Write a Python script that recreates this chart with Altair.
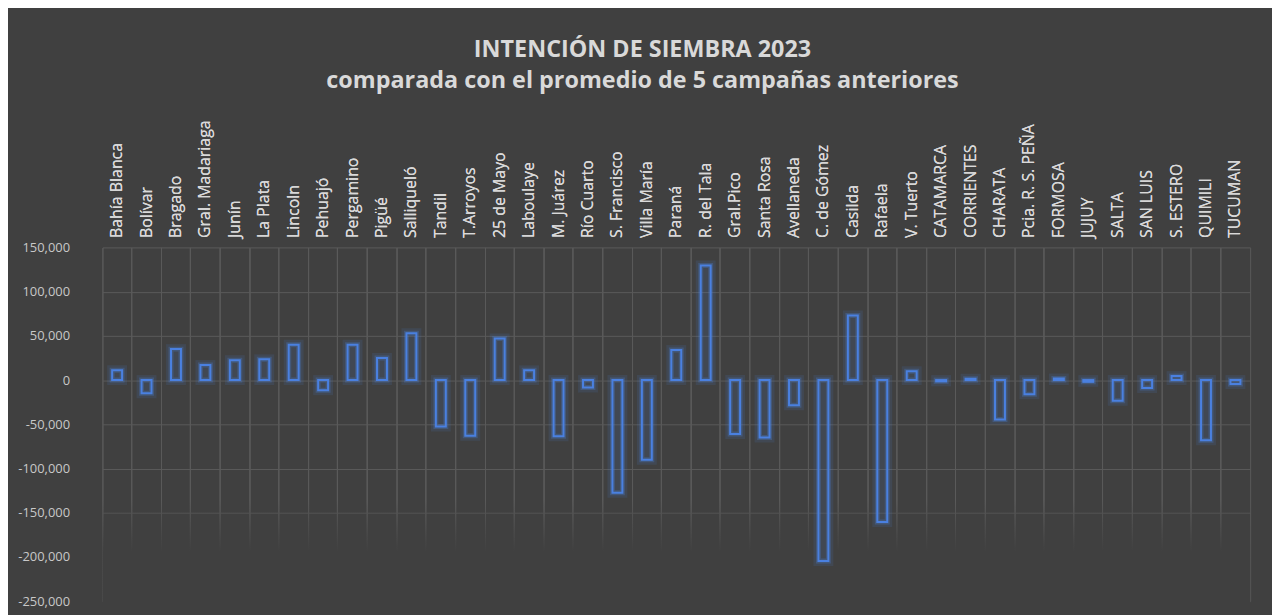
import altair as alt
import pandas as pd

categories = ["Bahía Blanca", "Bolívar", "Bragado", "Gral. Madariaga", "Junín", "La Plata",
              "Lincoln", "Pehuajó", "Pergamino", "Pigüé", "Salliqueló", "Tandil", "T.Arroyos",
              "25 de Mayo", "Laboulaye", "M. Juárez", "Río Cuarto", "S. Francisco", "Villa María",
              "Paraná", "R. del Tala", "Gral.Pico", "Santa Rosa", "Avellaneda", "C. de Gómez",
              "Casilda", "Rafaela", "V. Tuerto", "CATAMARCA", "CORRIENTES", "CHARATA",
              "Pcia. R. S. PEÑA", "FORMOSA", "JUJUY", "MISIONES", "SALTA", "SAN LUIS",
              "S. ESTERO", "QUIMILI", "TUCUMAN"]
values = [11000, -15000, 35000, 17000, 22500, 23500, 40000, -11500, 40000, 25000,
          53000, -52500, -63000, 47000, 11000, -63500, -8500, -127500, -90000, 34000,
          129500, -61000, -65000, -28500, -204500, 73000, -160500, 10000, -1500, 1500,
          -44500, -16000, 1800, -2000, 0, -23500, -9000, 4500, -68000, -4500]
y_ticks = [150000, 100000, 50000, 0, -50000, -100000, -150000, -200000, -250000]
title_lines = ["INTENCIÓN DE SIEMBRA 2023", "comparada con el promedio de 5 campañas anteriores"]

df = pd.DataFrame({"zona": categories, "valor": values})

BG = "#404040"
GRID = "#5a5a5a"
BLUE = "#4a80e0"
PLOT_W = 1155
PLOT_H = 356

x_scale = alt.Scale(paddingInner=0, paddingOuter=0)
x_enc = alt.X("zona:N", sort=categories, title=None, scale=x_scale,
              axis=alt.Axis(orient="top", labelAngle=-90, bandPosition=0,
                            grid=True, gridColor=GRID,
                            ticks=False, domain=False, labelPadding=10,
                            labelFont="Open Sans", labelFontSize=16, labelColor="#d9d9d9"))
x_edge = alt.X("zona:N", sort=categories, title=None, scale=x_scale,
               axis=alt.Axis(orient="bottom", bandPosition=1, grid=True, gridColor=GRID,
                             labels=False, ticks=False, domain=False))
y_enc = alt.Y("valor:Q", title=None,
              scale=alt.Scale(domain=[-250000, 150000], nice=False),
              axis=alt.Axis(values=y_ticks, grid=True, gridColor=GRID, ticks=False,
                            domain=False, labelPadding=33,
                            labelExpr="replace(format(datum.value, ',.0f'), '\u2212', '-')",
                            labelFont="Open Sans", labelFontSize=13, labelColor="#c8c8c8"))

base = alt.Chart(df).transform_filter("datum.valor != 0")

glow_outer = base.mark_bar(size=10, fillOpacity=0, stroke=BLUE, strokeWidth=10,
                           strokeOpacity=0.12).encode(x=x_enc, y=y_enc)
glow = base.mark_bar(size=10, fillOpacity=0, stroke=BLUE, strokeWidth=5,
                     strokeOpacity=0.28).encode(x=x_enc, y=y_enc)
bars = base.mark_bar(size=10, fillOpacity=0, stroke=BLUE, strokeWidth=2).encode(
    x=x_edge, y=y_enc)

fade = alt.Chart(pd.DataFrame({"a": [1]})).mark_rect(
    fill=alt.Gradient(gradient="linear",
                      stops=[alt.GradientStop(offset=0, color="rgba(64,64,64,0)"),
                             alt.GradientStop(offset=0.5, color=BG),
                             alt.GradientStop(offset=1, color=BG)],
                      x1=0, x2=0, y1=0, y2=1)
).encode(y=alt.datum(-135000), y2=alt.datum(-252000))

chart = alt.layer(fade, glow_outer, glow, bars).resolve_axis(x="independent").properties(
    width=PLOT_W, height=PLOT_H,
    autosize=alt.AutoSizeParams(type="none"),
    padding={"left": 95, "top": 239, "right": 22, "bottom": 12},
    background=BG,
    title=alt.TitleParams(text=title_lines, font="Open Sans", fontSize=23.5, fontWeight="bold",
                          color="#d9d9d9", anchor="middle", lineHeight=32, offset=27, dx=-34),
).configure_view(strokeWidth=0)

chart.save("out.html", embed_options={"renderer": "svg", "actions": False})
